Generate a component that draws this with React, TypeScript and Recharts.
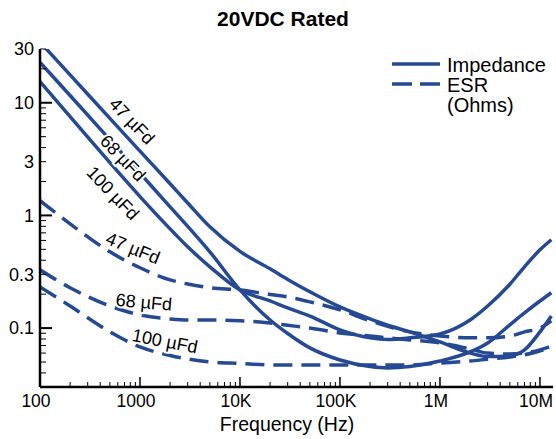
import { LineChart, Line, XAxis, YAxis } from 'recharts';

const BLUE = '#254a93';
const FONT = '"Liberation Sans", Arial, Helvetica, sans-serif';

// frequency points (Hz) shared by all curves
const freq = [100, 200, 500, 1000, 2000, 3000, 5000, 10000, 20000, 30000, 50000, 100000, 200000, 300000, 500000, 1000000, 2000000, 3000000, 5000000, 7000000, 10000000, 13000000];

// impedance (ohms)
const imp47 = [34.6, 17.7, 7.26, 3.72, 1.91, 1.29, 0.793, 0.479, 0.336, 0.27, 0.21, 0.154, 0.1205, 0.106, 0.0925, 0.0753, 0.06, 0.056, 0.0566, 0.064, 0.0925, 0.128];
const imp68 = [22.8, 11.6, 4.7, 2.37, 1.19, 0.8, 0.475, 0.218, 0.118, 0.0895, 0.0667, 0.0521, 0.0456, 0.0443, 0.0456, 0.051, 0.0614, 0.0738, 0.107, 0.1365, 0.174, 0.206];
const imp100 = [15.4, 7.53, 2.94, 1.47, 0.76, 0.526, 0.35, 0.218, 0.174, 0.151, 0.128, 0.0964, 0.0819, 0.0793, 0.0819, 0.0887, 0.118, 0.157, 0.245, 0.35, 0.495, 0.608];

// ESR (ohms)
const esr47 = [1.35, 0.843, 0.475, 0.343, 0.268, 0.246, 0.228, 0.218, 0.199, 0.189, 0.171, 0.145, 0.116, 0.1035, 0.0925, 0.0851, 0.0819, 0.0819, 0.0851, 0.0925, 0.1, 0.116];
const esr68 = [0.329, 0.228, 0.157, 0.131, 0.1205, 0.118, 0.118, 0.116, 0.111, 0.106, 0.1, 0.0906, 0.0851, 0.0819, 0.0785, 0.0738, 0.0653, 0.06, 0.0589, 0.06, 0.064, 0.0693];
const esr100 = [0.232, 0.157, 0.0925, 0.068, 0.0571, 0.0532, 0.05, 0.0485, 0.0471, 0.0471, 0.0471, 0.0471, 0.0471, 0.0471, 0.0471, 0.049, 0.051, 0.053, 0.0555, 0.058, 0.0627, 0.067];

// axis ticks
const xMajor = [100, 1000, 10000, 100000, 1000000, 10000000];
const xLabels = ['100', '1000', '10K', '100K', '1M', '10M'];
const xTicks = [
  100, 200, 300, 400, 500, 600, 700, 800, 900,
  1000, 2000, 3000, 4000, 5000, 6000, 7000, 8000, 9000,
  10000, 20000, 30000, 40000, 50000, 60000, 70000, 80000, 90000,
  100000, 200000, 300000, 400000, 500000, 600000, 700000, 800000, 900000,
  1000000, 2000000, 3000000, 4000000, 5000000, 6000000, 7000000, 8000000, 9000000,
  10000000,
];
const yMajor = [0.1, 1, 10];
const yLabelValues = [30, 10, 3, 1, 0.3, 0.1];
const yLabels = ['30', '10', '3', '1', '0.3', '0.1'];
const yTicks = [
  0.04, 0.05, 0.06, 0.07, 0.08, 0.09,
  0.1, 0.2, 0.3, 0.4, 0.5, 0.6, 0.7, 0.8, 0.9,
  1, 2, 3, 4, 5, 6, 7, 8, 9,
  10, 20, 30,
];

const toRows = (vals: number[]) => freq.map((f, i) => ({ f, v: vals[i] }));

const XTick = (props: any) => {
  const { x, y, payload } = props;
  const idx = xMajor.indexOf(payload.value);
  const major = idx >= 0;
  return (
    <g>
      <line x1={x} x2={x} y1={y} y2={y - (major ? 10 : 5)} stroke="#000" strokeWidth={major ? 1.5 : 1} />
      {major && (
        <text x={x - 4} y={y + 20} textAnchor="middle" fontSize={17.5} fontFamily={FONT} fill="#000">
          {xLabels[idx]}
        </text>
      )}
    </g>
  );
};

const YTick = (props: any) => {
  const { x, y, payload } = props;
  const major = yMajor.includes(payload.value);
  const idx = yLabelValues.indexOf(payload.value);
  return (
    <g>
      <line x1={x} x2={x + (major ? 12 : 6)} y1={y} y2={y} stroke="#000" strokeWidth={major ? 2 : 1} />
      {idx >= 0 && (
        <text x={x - 6} y={y} dy="0.35em" textAnchor="end" fontSize={18} fontFamily={FONT} fill="#000">
          {yLabels[idx]}
        </text>
      )}
    </g>
  );
};

const curveLabel = (text: string, cx: number, cy: number, angle: number) => (
  <text
    x={cx}
    y={cy}
    dy="0.35em"
    textAnchor="middle"
    fontSize={18}
    fontFamily={FONT}
    fill="#000"
    stroke="#fff"
    strokeWidth={4}
    paintOrder="stroke"
    transform={`rotate(${angle} ${cx} ${cy})`}
  >
    {text}
  </text>
);

export default function App() {
  const dash = '19 9';
  return (
    <div style={{ position: 'absolute', left: 0, top: 0, width: 556, height: 439, background: '#fff' }}>
      <LineChart width={556} height={439} margin={{ top: 49, right: 3, bottom: 0, left: 0 }}>
        <XAxis
          dataKey="f"
          type="number"
          scale="log"
          domain={[100, 13500000]}
          allowDataOverflow
          ticks={xTicks}
          interval={0}
          tick={<XTick />}
          tickSize={0}
          tickMargin={0}
          tickLine={false}
          axisLine={{ stroke: '#000', strokeWidth: 2.5 }}
          height={52}
        />
        <YAxis
          type="number"
          scale="log"
          domain={[0.03, 30]}
          allowDataOverflow
          ticks={yTicks}
          interval={0}
          tick={<YTick />}
          tickSize={0}
          tickMargin={0}
          tickLine={false}
          axisLine={{ stroke: '#000', strokeWidth: 2.5 }}
          width={40}
        />
        <Line data={toRows(imp47)} dataKey="v" type="monotone" stroke={BLUE} strokeWidth={3.5} dot={false} isAnimationActive={false} />
        <Line data={toRows(imp68)} dataKey="v" type="monotone" stroke={BLUE} strokeWidth={3.5} dot={false} isAnimationActive={false} />
        <Line data={toRows(imp100)} dataKey="v" type="monotone" stroke={BLUE} strokeWidth={3.5} dot={false} isAnimationActive={false} />
        <Line data={toRows(esr47)} dataKey="v" type="monotone" stroke={BLUE} strokeWidth={3.5} strokeDasharray={dash} dot={false} isAnimationActive={false} />
        <Line data={toRows(esr68)} dataKey="v" type="monotone" stroke={BLUE} strokeWidth={3.5} strokeDasharray={dash} dot={false} isAnimationActive={false} />
        <Line data={toRows(esr100)} dataKey="v" type="monotone" stroke={BLUE} strokeWidth={3.5} strokeDasharray={dash} dot={false} isAnimationActive={false} />
      </LineChart>

      <svg width={556} height={439} style={{ position: 'absolute', left: 0, top: 0, pointerEvents: 'none' }}>
        <text x={283} y={26} textAnchor="middle" fontSize={21} fontWeight="bold" fontFamily={FONT} fill="#000">
          20VDC Rated
        </text>
        <text x={287} y={431} textAnchor="middle" fontSize={19.5} fontFamily={FONT} fill="#000">
          Frequency (Hz)
        </text>

        {/* legend */}
        <line x1={392} x2={440} y1={64} y2={64} stroke={BLUE} strokeWidth={3.5} />
        <line x1={392} x2={440} y1={84} y2={84} stroke={BLUE} strokeWidth={3.5} strokeDasharray="20 8" />
        <text x={447} y={72} fontSize={20} fontFamily={FONT} fill="#000">Impedance</text>
        <text x={447} y={92} fontSize={20} fontFamily={FONT} fill="#000">ESR</text>
        <text x={447} y={112} fontSize={20} fontFamily={FONT} fill="#000">(Ohms)</text>

        {/* curve labels */}
        {curveLabel('47 µFd', 132, 121, 46)}
        {curveLabel('68 µFd', 123, 158, 46)}
        {curveLabel('100 µFd', 113, 193, 46)}
        {curveLabel('47 µFd', 133, 248, 22)}
        {curveLabel('68 µFd', 144, 302, 5)}
        {curveLabel('100 µFd', 165, 341, 11)}
      </svg>
    </div>
  );
}
